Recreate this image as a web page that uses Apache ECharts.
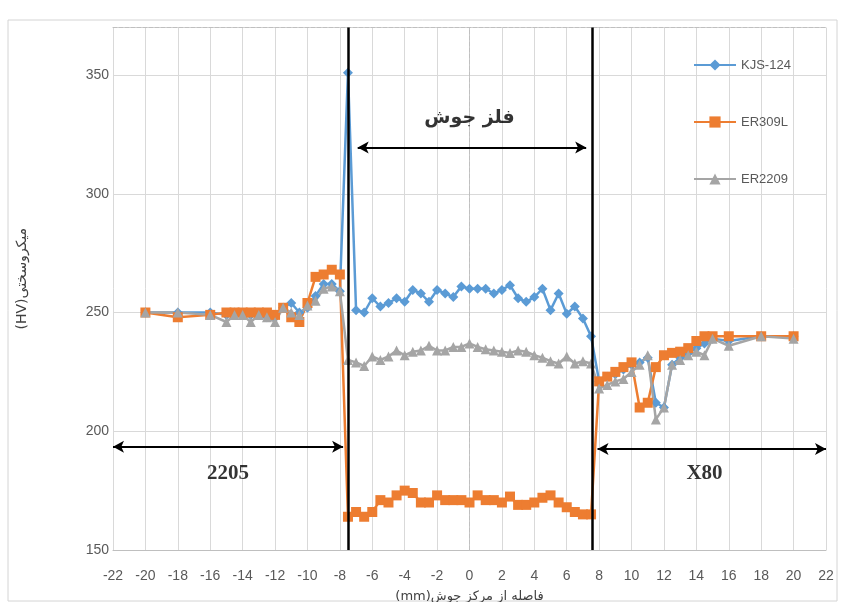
<!DOCTYPE html>
<html><head><meta charset="utf-8">
<script src="https://cdn.jsdelivr.net/npm/echarts@6/dist/echarts.min.js"></script>
<style>html,body{margin:0;padding:0;background:#fff}#c{width:843px;height:602px}</style>
</head><body><div id="c"></div>
<script>
// distance from weld centre (mm)
const positions = [-20,-18,-16,-15,-14.5,-14,-13.5,-13,-12.5,-12,-11.5,-11,-10.5,-10,-9.5,-9,-8.5,-8,-7.5,
  -7,-6.5,-6,-5.5,-5,-4.5,-4,-3.5,-3,-2.5,-2,-1.5,-1,-0.5,0,0.5,1,1.5,2,2.5,3,3.5,4,4.5,5,5.5,6,6.5,7,7.5,
  8,8.5,9,9.5,10,10.5,11,11.5,12,12.5,13,13.5,14,14.5,15,16,18,20];
const kjs124 = [250,250,250,249,250,249,249,249,248,248,252,254,250,252,257,262,262,259,351,
  251,250,256,252.5,254,256,254.5,259.5,258,254.5,259.5,258,256.5,261,260,260,260,258,259.5,261.5,256,254.5,256.5,260,251,258,249.5,252.5,247.5,240,
  221,223,224,226,228,229,231,212,210,228,231,233,235,237,239,238,240,240];
const er309l = [250,248,249,250,250,250,250,250,250,249,252,248,246,254,265,266,268,266,164,
  166,164,166,171,170,173,175,174,170,170,173,171,171,171,170,173,171,171,170,172.5,169,169,170,172,173,170,168,166,165,165,
  221,223,225,227,229,210,212,227,232,233,233.5,235,238,240,240,240,240,240];
const er2209 = [250,250,249,246,249,249,246,249,248,246,252,250,249,253,255,260,261,259,230,
  229,227.5,231.5,230,231.5,234,232,233.5,234,236,234,234,235.5,235.5,237,235.5,234.5,234,233.5,233,234,233.5,232,231,229.5,228.5,231.5,228.5,229.5,228.5,
  218,219.5,221,222,225,228,232,205,210,228,230,232,233.5,232,239,236,240,239];
const seriesNames = ['KJS-124','ER309L','ER2209'];
const seriesColors = ['#5B9BD5','#ED7D31','#A5A5A5'];
const seriesSymbols = ['diamond','rect','triangle'];
const xRange = {min:-22, max:22, interval:2};
const yRange = {min:150, max:370, interval:50};
const zoneLines = [-7.5, 7.6];
const arrows = [{x1:-22, x2:-7.8, y:193.5},{x1:7.9, x2:22, y:192.5},{x1:-6.9, x2:7.2, y:319.5}];
const notes = [{x:-14.9, y:182, text:'2205', serif:true},{x:14.5, y:182, text:'X80', serif:true},{x:0, y:332, text:'فلز جوش', serif:false}];
const xTitle = '(mm)فاصله از مرکز جوش';
const yTitle = '(HV)میکروسختی';

const chart = echarts.init(document.getElementById('c'), null, {renderer:'canvas'});
const font = '"Liberation Sans", "DejaVu Sans", sans-serif';
const values = [kjs124, er309l, er2209];
const series = seriesNames.map((n,k)=>({
  name:n, type:'line', data: positions.map((x,i)=>[x, values[k][i]]),
  symbol: seriesSymbols[k], symbolSize: 10,
  lineStyle:{width:2.5, color:seriesColors[k]}, itemStyle:{color:seriesColors[k]},
  emphasis:{disabled:true}, animation:false
}));
series.push({
  type:'line', data:[], z:10, silent:true, animation:false,
  markLine:{
    silent:true, animation:false, symbol:['none','none'], label:{show:false},
    lineStyle:{color:'#000', width:2.5, type:'solid'},
    data: zoneLines.map(v=>({xAxis:v}))
  }
});
series.push({
  type:'line', data:[], z:10, silent:true, animation:false,
  markLine:{
    silent:true, animation:false, symbol:['arrow','arrow'], symbolSize:[9,11], label:{show:false},
    lineStyle:{color:'#000', width:2, type:'solid'},
    data: arrows.map(a=>[{coord:[a.x1,a.y]},{coord:[a.x2,a.y]}])
  }
});
series.push({
  type:'scatter', silent:true, animation:false, symbolSize:0, z:11,
  data: notes.map(n=>({value:[n.x,n.y], label:{show:true, position:'inside', formatter:n.text,
    fontFamily: n.serif ? '"Liberation Serif", "DejaVu Serif", serif' : '"DejaVu Sans", sans-serif',
    fontWeight:'bold', fontSize: n.serif ? 21 : 19, color:'#000'}}))
});

chart.setOption({
  backgroundColor:'#fff',
  animation:false,
  textStyle:{fontFamily:font},
  graphic:[{type:'rect', z:-1, shape:{x:8,y:20,width:829,height:581}, style:{fill:'none', stroke:'#d4d4d4', lineWidth:1}, silent:true}],
  grid:{left:113, right:17, top:27.5, bottom:52, containLabel:false, outerBoundsMode:'none'},
  legend:{
    data:seriesNames, orient:'vertical', left:688, top:53,
    itemWidth:42, itemHeight:14, itemGap:43,
    textStyle:{fontSize:13, color:'#595959', fontFamily:font, lineHeight:14}
  },
  xAxis:[{
    type:'value', min:xRange.min, max:xRange.max, interval:xRange.interval,
    name:xTitle, nameLocation:'middle', nameGap:40,
    nameTextStyle:{fontSize:13, color:'#404040', fontFamily:'"DejaVu Sans", sans-serif'},
    axisLine:{show:true, lineStyle:{color:'#bfbfbf', width:1}},
    axisTick:{show:false},
    axisLabel:{fontSize:14, color:'#595959', margin:19},
    splitLine:{show:true, lineStyle:{color:'#d9d9d9', width:1}}
  },{
    type:'value', position:'top', min:xRange.min, max:xRange.max,
    axisLine:{show:true, lineStyle:{color:'#bfbfbf', type:'dashed'}},
    axisTick:{show:false}, axisLabel:{show:false}, splitLine:{show:false}
  }],
  yAxis:[{
    type:'value', min:yRange.min, max:yRange.max, interval:yRange.interval,
    name:yTitle, nameLocation:'middle', nameGap:84, nameRotate:90,
    nameTextStyle:{fontSize:14, color:'#404040', fontFamily:'"DejaVu Sans", sans-serif', padding:[0,0,0,20]},
    axisLine:{show:true, lineStyle:{color:'#bfbfbf', type:'dashed'}},
    axisTick:{show:false},
    axisLabel:{fontSize:14, color:'#595959', margin:4, formatter:v=> (v>360 ? '' : String(v))},
    splitLine:{show:true, lineStyle:{color:'#d9d9d9', width:1}}
  },{
    type:'value', position:'right', min:yRange.min, max:yRange.max,
    axisLine:{show:true, lineStyle:{color:'#bfbfbf', type:'dashed'}},
    axisTick:{show:false}, axisLabel:{show:false}, splitLine:{show:false}
  }],
  series: series
});
</script></body></html>
